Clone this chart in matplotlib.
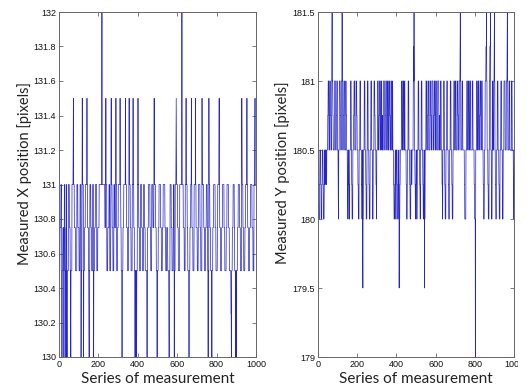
import numpy as np
import matplotlib.pyplot as plt
from matplotlib.patches import Rectangle

# each character = one sample, value = base + 0.25 * hex digit
x_base = 130.0
x_code = [
    "22222333334444202222333330244442222033341022222244",
    "44433332210222224444445644443333332222222444443333",
    "33222224444402222465444430222233334444444464433333",
    "22102224444433332222244444022223333444444422222333",
    "33334444444444444484444444444444433334644442222233",
    "33334444222224564444333322222444433333464442222333",
    "34444444446444332222022223333444444446544443333322",
    "22233564444433332222224444644433322202220222022244",
    "46444333322222444444333322222444443333222222222022",
    "33334444444433332222244444433333564444443333222202",
    "22223333444444443333222223333444444444333322222333",
    "33222222102222444444333322222233444022224444565444",
    "44333322222224444444444484444443333322222444464444",
    "43332222220222233334446443333322222244444446443333",
    "33222223444444443333222222644444444333322222333344",
    "44433220222644443333222222022223333444444443333222",
    "22223344444456443333222222333344444444333322222223",
    "33344444444333322222222110222233334444443322220222",
    "02222233334444444333322222246544443333222222333444",
    "44446444333322222233334444444433333222224444564444",
]
x_ticks = [130, 130.2, 130.4, 130.6, 130.8, 131, 131.2, 131.4, 131.6, 131.8, 132]
x_tick_labels = ["130", "130.2", "130.4", "130.6", "130.8", "131",
                 "131.2", "131.4", "131.6", "131.8", "132"]

y_base = 179.0
y_code = [
    "66554444556666554444556666554444556655666655566666",
    "778888666688887766668" "9a8887766666688888866" "6677888866",
    "65446668888877666688" "8a88666677" "88886666668877666655",
    "44666554446666888866554444666677888866666688887766",
    "66554444666688886666554466324466668888666655444466",
    "88886666554444666688886666444466668888776666554466",
    "66888866667788886666888866776666888888666677888866",
    "66888866668888776666888866668866665544445566444466",
    "66554444556624445566666688886666888866668866666655",
    "44446666888866665544446666556666668898a86" "6655445566",
    "44446666888866665544666688886666554444662444666688",
    "88666677888866666688887766668888886666778888666688",
    "88666666888888667766668888666655446666888866554444",
    "66668888666655444466668888666655444466668888666688",
    "8866666688887766668888" "9a886666" "66888866666666554444",
    "44666688886666888866668888666666668888666666554444",
    "04666688886666888866667788886666888866665544446666",
    "8888999a886666554444668899" "9a86" "66444466886666889a88",
    "66554444666688886666554444666688886666444466668888",
    "8866666688889a88666666888866666666888866666655446" "6",
]
y_ticks = [179, 179.5, 180, 180.5, 181, 181.5]
y_tick_labels = ["179", "179.5", "180", "180.5", "181", "181.5"]

x_pos = np.array([x_base + 0.25 * int(c, 16) for c in "".join(x_code)])
y_pos = np.array([y_base + 0.25 * int(c, 16) for c in "".join(y_code)])

count_ticks = [0, 200, 400, 600, 800, 1000]
count_labels = ["0", "200", "400", "600", "800", "1000"]

W, H = 527, 390
fig = plt.figure(figsize=(W / 100, H / 100), dpi=100)
ax1 = fig.add_axes([59 / W, (H - 357) / H, 197 / W, 345 / H])
ax2 = fig.add_axes([318 / W, (H - 357) / H, 196 / W, 345 / H])

frame = "#666666"

for ax, vals, lo, hi, yt, ytl, lab, lx in [
    (ax1, x_pos, 130, 132, x_ticks, x_tick_labels, "Measured X position [pixels]", -0.137),
    (ax2, y_pos, 179, 181.5, y_ticks, y_tick_labels, "Measured Y position [pixels]", -0.143),
]:
    ax.plot(np.arange(len(vals)), vals, color="#2424c8", lw=0.5)
    ax.set_xlim(0, 1000)
    ax.set_ylim(lo, hi)
    ax.set_xticks(count_ticks)
    ax.set_xticklabels(count_labels)
    ax.set_yticks(yt)
    ax.set_yticklabels(ytl)
    ax.tick_params(direction="in", length=3, width=0.6, colors=frame,
                   labelcolor="#111111", labelsize=6.5, pad=2,
                   top=True, right=True)
    for lbl in ax.get_xticklabels() + ax.get_yticklabels():
        lbl.set_family("Liberation Sans")
    for s in ax.spines.values():
        s.set_color(frame)
        s.set_linewidth(0.7)
    ax.set_xlabel("Series of measurement", labelpad=2,
                  family="Lato", size=11, color="#222222")
    ax.set_ylabel(lab, family="Lato", size=10.5, color="#222222")
    ax.yaxis.set_label_coords(lx, 0.533)

# the source image is cropped just right of the second panel
fig.add_artist(Rectangle((518 / W, 0), 1, 1, transform=fig.transFigure,
                         facecolor="white", edgecolor="none", zorder=10))

fig.savefig("out.png", dpi=100)
